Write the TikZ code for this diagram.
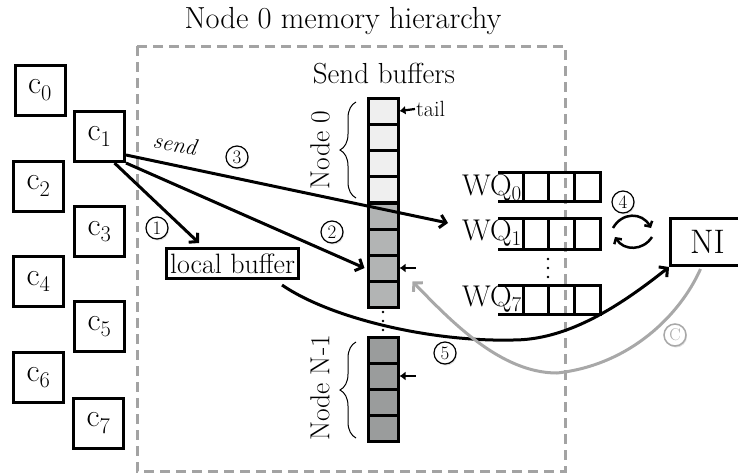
\documentclass[tikz,border=0pt]{standalone}
\usepackage{fontspec}
\usetikzlibrary{arrows.meta,decorations.pathreplacing,calc,shadows}
\definecolor{dashgray}{HTML}{A3A3A3}
\definecolor{curvegray}{HTML}{A8A8A8}
\definecolor{cellA}{HTML}{EFEFEF}
\definecolor{cellB}{HTML}{B2B4B4}
\definecolor{cellC}{HTML}{9A9C9C}
\newcommand{\fsz}[1]{\fontsize{#1}{#1}\selectfont}
\begin{document}
\begin{tikzpicture}[x=1pt,y=-1pt,
  core/.style={draw,line width=3pt,minimum width=50pt,minimum height=50pt,inner sep=0pt,font=\fsz{32}},
  cell/.style={draw,line width=3pt,minimum width=30pt,minimum height=26pt,inner sep=0pt},
  conn/.style={line width=3pt,-{Straight Barb[length=6pt,width=13pt]}},
  grayconn/.style={line width=3pt,color=curvegray,-{Straight Barb[length=6pt,width=13pt]}},
  smallarr/.style={line width=2.2pt,-{Latex[length=6pt,width=9pt]}},
  circarr/.style={line width=2.5pt,-{Straight Barb[length=4pt,width=9pt]}},
  num/.style={circle,draw,line width=1.2pt,fill=white,minimum size=22pt,inner sep=0pt,font=\fsz{19},
    drop shadow={opacity=0.25,shadow xshift=1pt,shadow yshift=-1.5pt}},
  qline/.style={line width=3pt},
  brc/.style={decorate,decoration={brace,amplitude=16pt},line width=1pt},
  wq/.style={anchor=base east,inner sep=0pt,font=\fsz{30}},
  dashbox/.style={draw=dashgray,line width=3pt,dash pattern=on 10pt off 6pt}
]
\useasboundingbox (0,0) rectangle (738,474);

% title and frame
\node[font=\fsz{30.5}] (title) at (343,21) {Node 0 memory hierarchy};
\draw[dashbox] (137,46) rectangle (565,471);

% cores
\node[core] (c0) at (40,90) {c\textsubscript{0}};
\node[core] (c1) at (99.5,136.5) {c\textsubscript{1}};
\node[core] (c2) at (38.5,186) {c\textsubscript{2}};
\node[core] (c3) at (99.5,231.5) {c\textsubscript{3}};
\node[core] (c4) at (38.5,281.5) {c\textsubscript{4}};
\node[core] (c5) at (99.5,326.5) {c\textsubscript{5}};
\node[core] (c6) at (38.5,377.5) {c\textsubscript{6}};
\node[core] (c7) at (98.5,423) {c\textsubscript{7}};

% send buffers
\node[font=\fsz{29}] (sb) at (384,74) {Send buffers};
\foreach \i/\y in {1/111,2/137,3/163,4/189} \node[cell,fill=cellA] (a\i) at (383,\y) {};
\foreach \i/\y in {1/216,2/242,3/268,4/294} \node[cell,fill=cellB] (b\i) at (383,\y) {};
\foreach \i/\y in {1/350,2/376,3/402,4/428} \node[cell,fill=cellC] (d\i) at (383,\y) {};
\foreach \y in {312,321,330} \fill (383,\y) circle (1.4);

\draw[brc] (356,198) -- (356,102);
\node[rotate=90,font=\fsz{27.5}] (lab0) at (320,150) {Node 0};
\draw[brc] (356,438) -- (356,342);
\node[rotate=90,font=\fsz{27.5}] (labN) at (320,388) {Node N-1};

\node[font=\fsz{22},anchor=west,inner sep=1pt] (tail) at (415,109) {tail};
\draw[smallarr] (tail.west) -- (a1.east);
\coordinate (pb3) at ($(b3.east)+(16,0)$);
\draw[smallarr] (pb3) -- (b3.east);
\coordinate (pd2) at ($(d2.east)+(16,0)$);
\draw[smallarr] (pd2) -- (d2.east);

% local buffer
\node[draw,line width=3pt,minimum width=132pt,minimum height=30pt,inner sep=0pt,font=\fsz{28}] (lb) at (232.5,263.5) {local buffer};

% work queues
\foreach \t/\b in {172.5/201.5,218.5/249.5,285.5/314.5}{
  \draw[qline] (498,\t) -- (600,\t) -- (600,\b) -- (498,\b);
  \draw[qline] (523,\t) -- (523,\b) (548,\t) -- (548,\b) (574,\t) -- (574,\b);
}
\node[wq] (wq0) at (522,195) {WQ\textsubscript{0}};
\node[wq] (wq1) at (522,240) {WQ\textsubscript{1}};
\node[wq] (wq7) at (522,306) {WQ\textsubscript{7}};
\foreach \y in {259,268,277} \fill (548,\y) circle (1.4);

% NI
\node[draw,line width=3pt,minimum width=74pt,minimum height=47pt,inner sep=0pt,font=\fsz{34}] (ni) at (707.5,242) {NI};

% arrows
\coordinate (wq1in) at (448,223);
\draw[conn] ($(c1.south)+(15,0)$) -- ($(lb.north west)+(34,-4)$);
\draw[conn] (c1.south east) -- ($(b3.west)+(-2,0)$);
\draw[conn] ($(c1.south east)+(0,-8)$) -- (wq1in);
\node[font=\itshape\fsz{23},rotate=-10,inner sep=0pt] (send) at (175,144) {send};

\draw[conn] ($(lb.south east)+(-18,5)$) .. controls (330,318) and (430,342) .. (513,340)
   .. controls (565,340) and (615,310) .. (ni.south west);
\draw[grayconn] ($(ni.south)+(-7,2)$) .. controls (680,315) and (630,365) .. (557,373)
   .. controls (500,373) and (450,320) .. ($(b3.south east)+(13,-1)$);

\coordinate (r1s) at (613,228); \coordinate (r1e) at (651,228);
\coordinate (r2s) at (652,237); \coordinate (r2e) at (615,237);
\draw[circarr] (r1s) .. controls (622,212) and (642,212) .. (r1e);
\draw[circarr] (r2s) .. controls (643,251) and (624,251) .. (r2e);

% step numbers
\node[num] (n1) at (157,228) {1};
\node[num] (n2) at (332,232) {2};
\node[num] (n3) at (237,157) {3};
\node[num] (n4) at (623,202) {4};
\node[num] (n5) at (445,353) {5};
\node[num,draw=curvegray,text=curvegray,line width=1.5pt,font=\fsz{17}] (nc) at (675,335) {C};
\end{tikzpicture}
\end{document}
